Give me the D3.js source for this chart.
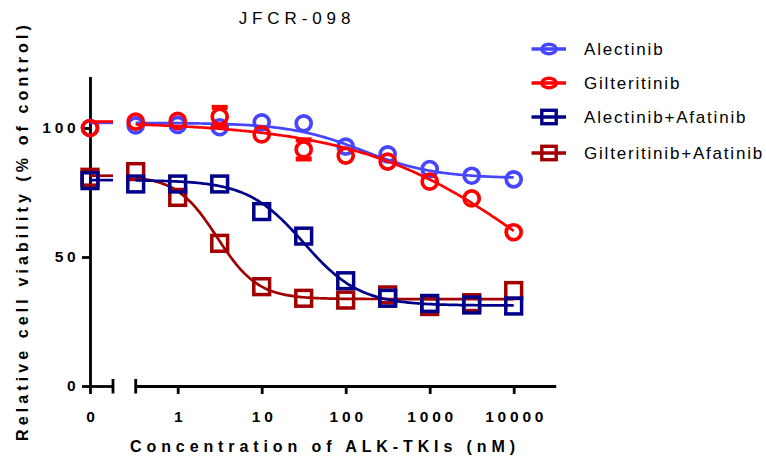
<!DOCTYPE html>
<html>
<head>
<meta charset="utf-8">
<script src="https://cdn.jsdelivr.net/npm/d3@7"></script>
<style>
  html, body { margin: 0; padding: 0; background: #fff; }
  svg { display: block; font-family: "Liberation Sans", Arial, Helvetica, sans-serif; }
</style>
</head>
<body>
<svg id="chart" width="766" height="459"></svg>
<script>
// Drug concentrations in nM (0 = control, drawn on its own short axis segment)
const concentrations = [0, 0.3162, 1, 3.162, 10, 31.62, 100, 316.2, 1000, 3162, 10000];

// Mean relative viability (% of control) per series
const alectinib            = [100, 101.0, 101.2, 100.3, 102.2, 101.8, 92.8, 89.8, 84.1, 81.5, 80.1];
const gilteritinib         = [100, 102.5, 102.8, 104.4, 97.5, 91.7, 89.3, 87.0, 79.2, 72.7, 59.6];
const alectinibAfatinib    = [79.6, 78.3, 78.3, 78.3, 67.6, 58.1, 40.8, 34.0, 32.0, 31.4, 31.0];
const gilteritinibAfatinib = [80.9, 83.1, 73.1, 55.3, 38.5, 34.0, 33.3, 35.3, 30.8, 32.3, 37.0];

// Standard deviations
const alectinibSD            = [1.0, 1.5, 1.2, 1.4, 1.0, 1.2, 1.3, 1.1, 1.0, 0.8, 0.9];
const gilteritinibSD         = [1.0, 1.2, 1.0, 3.6, 1.2, 3.7, 1.0, 1.1, 1.2, 1.0, 1.3];
const alectinibAfatinibSD    = [1.0, 1.2, 1.0, 1.1, 1.4, 1.5, 1.6, 1.0, 1.1, 1.0, 0.9];
const gilteritinibAfatinibSD = [1.2, 1.8, 1.5, 1.4, 1.2, 1.0, 1.1, 1.3, 1.6, 1.0, 1.5];

// Four-parameter logistic fits: [top, bottom, logIC50, Hill slope]
const alectinibFit            = [102.0, 80.5, 2.20, 1.00];
const gilteritinibFit         = [102.5, 0.0, 4.38, 0.40];
const alectinibAfatinibFit    = [79.8, 31.2, 1.50, 1.30];
const gilteritinibAfatinibFit = [81.5, 33.7, 0.47, 1.79];

const seriesNames  = ["Alectinib", "Gilteritinib", "Alectinib+Afatinib", "Gilteritinib+Afatinib"];
const seriesColors = ["#4646ff", "#ff0000", "#000088", "#a00000"];
const seriesShapes = ["circle", "circle", "square", "square"];

const xTickValues = [1, 10, 100, 1000, 10000];
const yTickValues = [0, 50, 100];

const titleText  = "JFCR-098";
const xTitleText = "Concentration of ALK-TKIs (nM)";
const yTitleText = "Relative cell viability (% of control)";

// ---------------------------------------------------------------
const series = [
  { name: seriesNames[0], color: seriesColors[0], shape: seriesShapes[0], values: alectinib,            sd: alectinibSD,            fit: alectinibFit },
  { name: seriesNames[1], color: seriesColors[1], shape: seriesShapes[1], values: gilteritinib,         sd: gilteritinibSD,         fit: gilteritinibFit },
  { name: seriesNames[2], color: seriesColors[2], shape: seriesShapes[2], values: alectinibAfatinib,    sd: alectinibAfatinibSD,    fit: alectinibAfatinibFit },
  { name: seriesNames[3], color: seriesColors[3], shape: seriesShapes[3], values: gilteritinibAfatinib, sd: gilteritinibAfatinibSD, fit: gilteritinibAfatinibFit }
];
// overlap order in the plot
const drawOrder = [0, 1, 3, 2];

const svg = d3.select("#chart");
svg.append("rect").attr("width", 766).attr("height", 459).attr("fill", "#fff");

const axisY0 = 386;
const y = d3.scaleLinear().domain([0, 120]).range([axisY0, 76.4]);
const xLog = d3.scaleLog().domain([Math.pow(10, -0.5), Math.pow(10, 4.5)]).range([135.7, 555.7]);
const xZero = d3.scaleLinear().domain([0, 1]).range([90, 113]);
const xPos = c => (c === 0 ? xZero(0) : xLog(c));

const axisStroke = 2.8;
const tickFont = 15.5;

function styleAxis(g) {
  g.selectAll("path.domain").attr("stroke", "#000").attr("stroke-width", axisStroke);
  g.selectAll(".tick line").attr("stroke", "#000").attr("stroke-width", axisStroke);
  g.selectAll(".tick text")
    .attr("fill", "#000")
    .attr("font-size", tickFont)
    .attr("font-weight", "bold")
    .style("letter-spacing", "3.8px");
}

// Y axis
const yAxisG = svg.append("g")
  .attr("transform", `translate(${xZero(0)},0)`)
  .call(d3.axisLeft(y).tickValues(yTickValues).tickSize(8).tickSizeOuter(0).tickPadding(2.5).tickFormat(d3.format("d")));
yAxisG.attr("font-family", null);
styleAxis(yAxisG);

// X axis: control segment
const xZeroG = svg.append("g")
  .attr("transform", `translate(0,${axisY0})`)
  .call(d3.axisBottom(xZero).tickValues([0]).tickSize(8).tickSizeOuter(0).tickPadding(16.5).tickFormat(d3.format("d")));
xZeroG.attr("font-family", null);
styleAxis(xZeroG);
xZeroG.selectAll(".tick text").attr("dx", "2px");

// X axis: log segment
const xLogG = svg.append("g")
  .attr("transform", `translate(0,${axisY0})`)
  .call(d3.axisBottom(xLog).tickValues(xTickValues).tickSize(8).tickSizeOuter(0).tickPadding(16.5).tickFormat(d3.format("d")));
xLogG.attr("font-family", null);
styleAxis(xLogG);
xLogG.selectAll(".tick text").attr("dx", "2px");

// axis break marks at both sides of the gap
[xZero.range()[1], xLog.range()[0]].forEach(bx => {
  svg.append("line")
    .attr("x1", bx).attr("x2", bx)
    .attr("y1", axisY0 - 7).attr("y2", axisY0 + 7.5)
    .attr("stroke", "#000").attr("stroke-width", axisStroke);
});

// Titles
svg.append("text")
  .attr("x", 297).attr("y", 24)
  .attr("text-anchor", "middle")
  .attr("font-size", 17)
  .style("letter-spacing", "4.9px")
  .text(titleText);

svg.append("text")
  .attr("x", 325).attr("y", 452)
  .attr("text-anchor", "middle")
  .attr("font-size", 16)
  .attr("font-weight", "bold")
  .style("letter-spacing", "4.9px")
  .text(xTitleText);

svg.append("text")
  .attr("transform", "translate(28,231) rotate(-90)")
  .attr("text-anchor", "middle")
  .attr("font-size", 16)
  .attr("font-weight", "bold")
  .style("letter-spacing", "4.1px")
  .text(yTitleText);

// Fitted logistic model
function logistic(fit, c) {
  const [top, bottom, logIC50, hill] = fit;
  if (c <= 0) return top;
  return bottom + (top - bottom) / (1 + Math.pow(10, (Math.log10(c) - logIC50) * hill));
}

const lineGen = d3.line().x(d => d[0]).y(d => d[1]);
const markerR = 7.5;
const squareHalf = 7.9;

function drawMarker(g, shape, cx, cy, color) {
  if (shape === "circle") {
    g.append("circle").attr("cx", cx).attr("cy", cy).attr("r", markerR)
      .attr("fill", "none").attr("stroke", color).attr("stroke-width", 3.7);
  } else {
    g.append("rect").attr("x", cx - squareHalf).attr("y", cy - squareHalf)
      .attr("width", squareHalf * 2).attr("height", squareHalf * 2)
      .attr("fill", "none").attr("stroke", color).attr("stroke-width", 3.5);
  }
}

drawOrder.forEach(si => {
  const s = series[si];
  const g = svg.append("g");

  // fitted curve over the control segment (concentration effectively zero)
  const zx0 = xZero.range()[0], zx1 = xZero.range()[1];
  const zeroPts = d3.range(0, 11).map(i => {
    const px = zx0 + (zx1 - zx0) * i / 10;
    return [px, y(logistic(s.fit, 0))];
  });
  g.append("path").attr("d", lineGen(zeroPts))
    .attr("fill", "none").attr("stroke", s.color).attr("stroke-width", 2.7);

  // fitted curve over the concentration range
  const nz = concentrations.filter(c => c > 0);
  const lo = Math.log10(d3.min(nz)), hi = Math.log10(d3.max(nz));
  const n = 240;
  const pts = d3.range(n + 1).map(i => {
    const c = Math.pow(10, lo + (hi - lo) * i / n);
    return [xLog(c), y(logistic(s.fit, c))];
  });
  g.append("path").attr("d", lineGen(pts))
    .attr("fill", "none").attr("stroke", s.color).attr("stroke-width", 2.7);

  // error bars, drawn outside the symbol
  const half = s.shape === "circle" ? markerR : squareHalf;
  s.values.forEach((v, i) => {
    const cx = xPos(concentrations[i]);
    const cy = y(v);
    const up = y(v + s.sd[i]), dn = y(v - s.sd[i]);
    if (cy - up > half) {
      g.append("line").attr("x1", cx).attr("x2", cx).attr("y1", cy - half).attr("y2", up)
        .attr("stroke", s.color).attr("stroke-width", 3);
      g.append("line").attr("x1", cx - 8).attr("x2", cx + 8).attr("y1", up).attr("y2", up)
        .attr("stroke", s.color).attr("stroke-width", 5);
    }
    if (dn - cy > half) {
      g.append("line").attr("x1", cx).attr("x2", cx).attr("y1", cy + half).attr("y2", dn)
        .attr("stroke", s.color).attr("stroke-width", 3);
      g.append("line").attr("x1", cx - 8).attr("x2", cx + 8).attr("y1", dn).attr("y2", dn)
        .attr("stroke", s.color).attr("stroke-width", 5);
    }
  });

  // symbols
  s.values.forEach((v, i) => drawMarker(g, s.shape, xPos(concentrations[i]), y(v), s.color));
});

// Legend
const legendRowY = [49, 83, 117, 153];
const legend = svg.append("g");
series.forEach((s, i) => {
  const ly = legendRowY[i];
  legend.append("line").attr("x1", 531.5).attr("x2", 566).attr("y1", ly).attr("y2", ly)
    .attr("stroke", s.color).attr("stroke-width", 3.3);
  if (s.shape === "circle") {
    legend.append("ellipse").attr("cx", 549).attr("cy", ly).attr("rx", 7.2).attr("ry", 4.8)
      .attr("fill", "none").attr("stroke", s.color).attr("stroke-width", 3.4);
  } else {
    legend.append("rect").attr("x", 549 - 7.2).attr("y", ly - 6.7).attr("width", 14.4).attr("height", 13.4)
      .attr("fill", "none").attr("stroke", s.color).attr("stroke-width", 3.4);
  }
  legend.append("text").attr("x", 584).attr("y", ly).attr("dy", "0.36em")
    .attr("font-size", 17).style("letter-spacing", "1.8px")
    .text(s.name);
});
</script>
</body>
</html>
